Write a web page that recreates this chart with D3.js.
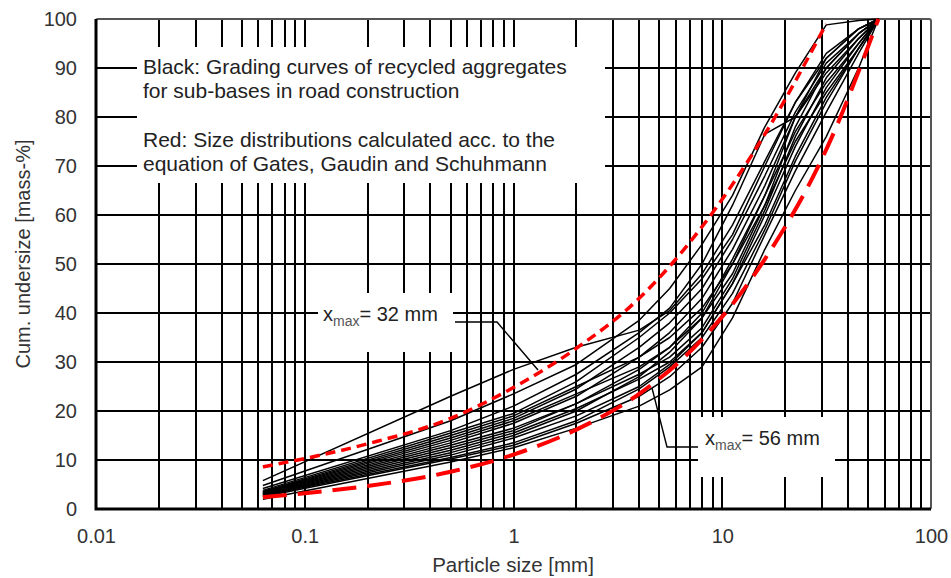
<!DOCTYPE html>
<html>
<head>
<meta charset="utf-8">
<script src="https://cdn.jsdelivr.net/npm/d3@7/dist/d3.min.js"></script>
<style>
  body { margin: 0; background: #fff; }
  svg { display: block; font-family: "Liberation Sans", Arial, sans-serif; }
</style>
</head>
<body>
<svg></svg>
<script>
// sieve sizes [mm] of the grading curves
let sieveSizes = [0.063, 0.5, 1, 2, 4, 5.6, 8, 11.2, 16, 22.4, 31.5, 45, 56];

// black: cumulative undersize [mass-%] at each sieve size
let c01 = [5.8, 23.0, 28.5, 33.0, 36.5, 40.5, 48, 58, 71, 83, 92, 98, 100];
let c02 = [4.8, 18.0, 23.5, 29.5, 38.5, 45, 54, 64, 78, 89, 98.8, 99.7, 100];
let c03 = [4.2, 16.0, 21.0, 27.5, 36.0, 41, 50, 62, 76.5, 80, 90, 97, 100];
let c04 = [3.8, 15.5, 19.5, 26.0, 35.0, 40, 47, 56, 70, 83, 93, 98, 100];
let c05 = [3.6, 15.0, 19.0, 25.0, 31.0, 35, 41, 50, 64, 80, 92, 98, 100];
let c06 = [3.5, 14.5, 18.5, 24.5, 33.0, 38, 45, 55, 68, 81, 91, 97, 100];
let c07 = [3.4, 14.0, 18.0, 23.5, 29.0, 33, 39, 48, 62, 78, 90, 97, 100];
let c08 = [3.3, 13.5, 17.5, 23.0, 31.0, 36, 43, 53, 66, 80, 89, 96, 100];
let c09 = [3.2, 13.0, 16.5, 21.5, 27.5, 31, 37, 47, 61, 76, 88, 96, 100];
let c10 = [3.1, 12.5, 16.0, 21.5, 28.5, 33, 40, 51, 64, 77, 87, 95, 100];
let c11 = [3.0, 12.0, 15.5, 20.5, 26.5, 30, 36, 46, 60, 74, 86, 95, 100];
let c12 = [2.9, 11.5, 15.0, 20.0, 27.0, 32, 39, 50, 62, 75, 85, 94, 100];
let c13 = [2.8, 11.0, 14.5, 19.0, 25.0, 29.5, 36, 46, 58, 72, 84, 94, 100];
let c14 = [2.7, 10.5, 13.5, 18.0, 24.5, 29, 35, 44, 57, 71, 83, 94, 100];
let c15 = [2.5, 10.2, 13.0, 17.5, 23.0, 27, 33, 42, 56, 69, 81, 93, 100];
let c16 = [2.0, 9.6, 12.5, 16.5, 21.0, 24.3, 29, 39, 53, 65, 76, 90, 100];
let blackCurves = [c01, c02, c03, c04, c05, c06, c07, c08, c09, c10, c11, c12, c13, c14, c15, c16];

// red: Gates-Gaudin-Schuhmann distributions
let ggs32Sizes = [0.063, 0.1, 0.2, 0.5, 1, 2, 4, 8, 16, 31.5];
let ggs32Values = [8.6, 10.3, 13.3, 18.5, 24.8, 32.8, 43, 57.6, 76.5, 99];
let ggs56Sizes = [0.063, 0.1, 0.2, 0.5, 1, 2, 4, 8, 16, 32, 56];
let ggs56Values = [2.4, 3.2, 4.7, 7.6, 11.1, 16.2, 23.5, 34.6, 51, 74, 100];

let xTickLabels = [0.01, 0.1, 1, 10, 100];
let yTickLabels = [0, 10, 20, 30, 40, 50, 60, 70, 80, 90, 100];

let boxLines = [
  'Black: Grading curves of recycled aggregates',
  'for sub-bases in road construction',
  'Red: Size distributions calculated acc. to the',
  'equation of Gates, Gaudin and Schuhmann'
];

let w = 951;
let h = 578;
let padL = 96, padR = 931, padT = 19, padB = 509;

let svg = d3.select('svg').attr('width', w).attr('height', h);

let xScale = d3.scaleLog().domain([0.01, 100]).range([padL, padR]);
let yScale = d3.scaleLinear().domain([0, 100]).range([padB, padT]);

// grid
let grid = svg.append('g')
              .attr('stroke', '#000')
              .attr('stroke-width', 2)
              .attr('shape-rendering', 'crispEdges');
grid.selectAll('line.v')
    .data(xScale.ticks().filter(d => d > 0.01 && d < 100))
    .enter().append('line')
    .attr('x1', d => xScale(d)).attr('x2', d => xScale(d))
    .attr('y1', padT).attr('y2', padB);
grid.selectAll('line.h')
    .data(yTickLabels.filter(d => d > 0 && d < 100))
    .enter().append('line')
    .attr('x1', padL).attr('x2', padR)
    .attr('y1', d => yScale(d)).attr('y2', d => yScale(d));

// frame
svg.append('rect')
   .attr('x', padL).attr('y', padT)
   .attr('width', padR - padL).attr('height', padB - padT)
   .attr('rx', 2)
   .attr('fill', 'none').attr('stroke', '#555').attr('stroke-width', 2);
svg.append('path')
   .attr('d', 'M' + padL + ',' + padT + 'V' + padB + 'H' + padR)
   .attr('fill', 'none').attr('stroke', '#000').attr('stroke-width', 3);

// white label boxes
svg.append('rect').attr('x', 137).attr('y', 47).attr('width', 468).attr('height', 136).attr('fill', '#fff');
svg.append('rect').attr('x', 318).attr('y', 293).attr('width', 135).attr('height', 59).attr('fill', '#fff');
svg.append('rect').attr('x', 698).attr('y', 417).attr('width', 137).attr('height', 60).attr('fill', '#fff');

// black grading curves
let line = d3.line()
             .x((d, i) => xScale(sieveSizes[i]))
             .y(d => yScale(d));

svg.append('g')
   .selectAll('path')
   .data(blackCurves)
   .enter().append('path')
   .attr('d', line)
   .attr('fill', 'none')
   .attr('stroke', '#000')
   .attr('stroke-width', 1.5)
   .attr('stroke-linejoin', 'round');

// red GGS curves
let redLine = d3.line()
                .x(d => xScale(d[0]))
                .y(d => yScale(d[1]))
                .curve(d3.curveMonotoneX);

svg.append('path')
   .attr('d', redLine(d3.zip(ggs32Sizes, ggs32Values)))
   .attr('fill', 'none').attr('stroke', '#ff0000')
   .attr('stroke-width', 3.5).attr('stroke-dasharray', '10,6');
svg.append('path')
   .attr('d', redLine(d3.zip(ggs56Sizes, ggs56Values)))
   .attr('fill', 'none').attr('stroke', '#ff0000')
   .attr('stroke-width', 4).attr('stroke-dasharray', '24,11');

// leader lines
svg.append('path')
   .attr('d', 'M455,322H497L538,370')
   .attr('fill', 'none').attr('stroke', '#000').attr('stroke-width', 1.4);
svg.append('path')
   .attr('d', 'M698,447H667L652,388')
   .attr('fill', 'none').attr('stroke', '#000').attr('stroke-width', 1.4);

// axes labels
let xAxis = d3.axisBottom(xScale).tickValues(xTickLabels).tickFormat(d => d).tickSize(0).tickPadding(20);
svg.append('g')
   .attr('transform', 'translate(0,' + padB + ')')
   .call(xAxis)
   .call(g => g.select('.domain').remove())
   .selectAll('text')
   .attr('font-size', 20).attr('fill', '#333').attr('font-family', null);

let yAxis = d3.axisLeft(yScale).tickValues(yTickLabels).tickSize(0).tickPadding(19);
svg.append('g')
   .attr('transform', 'translate(' + padL + ',0)')
   .call(yAxis)
   .call(g => g.select('.domain').remove())
   .selectAll('text')
   .attr('font-size', 20).attr('fill', '#333').attr('font-family', null);

svg.append('text')
   .attr('x', 513).attr('y', 572)
   .attr('text-anchor', 'middle')
   .attr('font-size', 20.5).attr('fill', '#333')
   .text('Particle size [mm]');

svg.append('text')
   .attr('transform', 'translate(30,254) rotate(-90)')
   .attr('text-anchor', 'middle')
   .attr('font-size', 20).attr('fill', '#333')
   .text('Cum. undersize [mass-%]');

// box text
svg.append('g')
   .selectAll('text')
   .data(boxLines)
   .enter().append('text')
   .attr('x', 143)
   .attr('y', (d, i) => [74, 98, 147, 171][i])
   .attr('font-size', 21).attr('fill', '#222')
   .text(d => d);

// xmax labels
let xmaxLabel = (x, y, val) => {
  let t = svg.append('text').attr('x', x).attr('y', y).attr('font-size', 20).attr('fill', '#222');
  t.append('tspan').text('x');
  t.append('tspan').attr('font-size', 14).attr('fill', '#555').attr('dy', 5).text('max');
  t.append('tspan').attr('dy', -5).text('= ' + val + ' mm');
};
xmaxLabel(323, 321, 32);
xmaxLabel(705, 445, 56);
</script>
</body>
</html>
